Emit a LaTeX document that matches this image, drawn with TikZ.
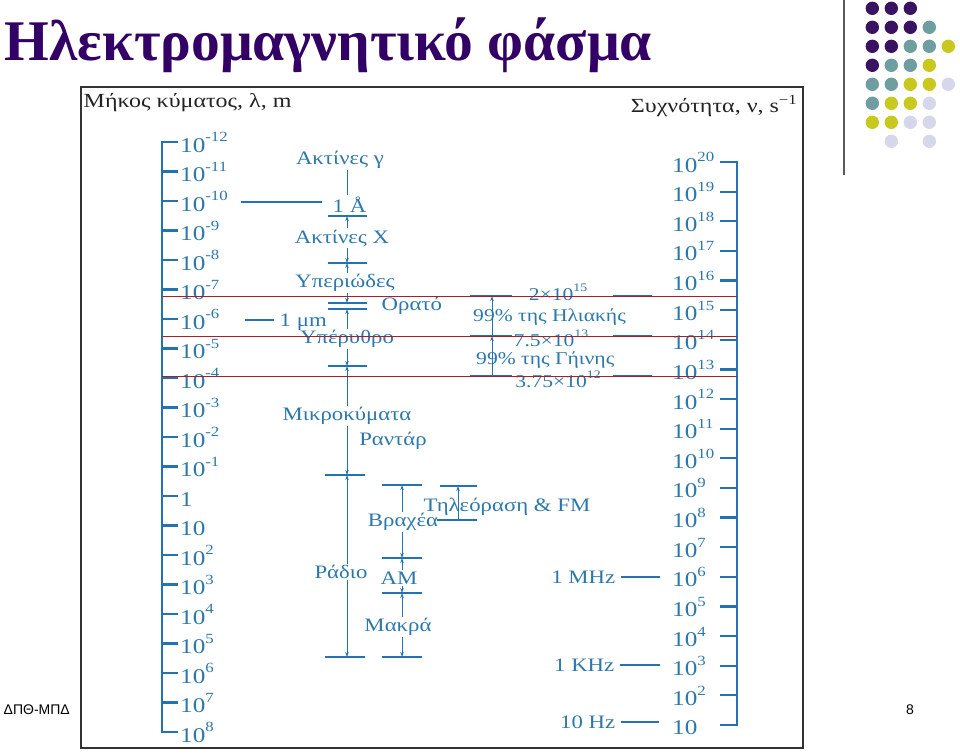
\documentclass[tikz,border=0pt]{standalone}
\usepackage{fontspec}
\setmainfont{Liberation Serif}
\newfontfamily\figfont[FakeStretch=1.2]{Liberation Serif}
\newfontfamily\footfont{Liberation Sans}
\usetikzlibrary{arrows.meta}
\definecolor{specblue}{RGB}{35,115,180}
\definecolor{spectext}{RGB}{45,120,170}
\definecolor{limred}{RGB}{170,30,40}
\definecolor{headgray}{RGB}{35,35,35}
\definecolor{titlepurple}{RGB}{51,0,102}
\definecolor{dotpurple}{RGB}{58,18,98}
\definecolor{dotteal}{RGB}{110,158,160}
\definecolor{dotyellow}{RGB}{200,200,30}
\definecolor{dotlav}{RGB}{215,215,235}
\newcommand{\tenp}[1]{10\raisebox{0.48em}{\fontsize{14}{14}\selectfont#1}}
\newcommand{\tenq}[1]{10\raisebox{0.45em}{\fontsize{11.5}{11.5}\selectfont#1}}

\begin{document}
\begin{tikzpicture}[x=1pt, y=-1pt, every node/.style={inner sep=1.5pt},
	txt/.style={text=spectext, font=\figfont\fontsize{19}{19}\selectfont},
	num/.style={text=spectext, font=\figfont\fontsize{21}{21}\selectfont, inner sep=0pt},
	ann/.style={text=spectext, font=\figfont\fontsize{18}{18}\selectfont, inner sep=0pt},
	head/.style={text=headgray, font=\figfont\fontsize{20}{20}\selectfont},
	scl/.style={specblue, line width=2.2pt},
	tk/.style={specblue, line width=1.3pt},
	ar/.style={specblue, line width=0.9pt, -{Stealth[length=5pt,width=3.5pt]}},
	lim/.style={limred, line width=0.8pt}]
	\useasboundingbox (0,0) rectangle (960,752);
	\node[anchor=base west, text=titlepurple, font=\bfseries\fontsize{57.5}{57.5}\selectfont] (title) at (3,60) {Ηλεκτρομαγνητικό φάσμα};
	\draw[gray!70!black, line width=1.5pt] (844,0) -- (844,175);
	\foreach \c/\r/\col in {0/0/dotpurple,1/0/dotpurple,2/0/dotpurple, 0/1/dotpurple,1/1/dotpurple,2/1/dotpurple,3/1/dotteal,
		0/2/dotpurple,1/2/dotpurple,2/2/dotteal,3/2/dotteal,4/2/dotyellow, 0/3/dotpurple,1/3/dotteal,2/3/dotteal,3/3/dotyellow,
		0/4/dotteal,1/4/dotteal,2/4/dotyellow,3/4/dotyellow,4/4/dotlav, 0/5/dotteal,1/5/dotyellow,2/5/dotyellow,3/5/dotlav,
		0/6/dotyellow,1/6/dotyellow,2/6/dotlav,3/6/dotlav, 1/7/dotlav,3/7/dotlav}
		\fill[\col] ({872.3+19*\c},{8.3+19*\r}) circle (6.7pt);
	\draw[gray!40!black, line width=1.3pt] (81,87) rectangle (803,748);
	\node[head, anchor=west] (lamhead) at (82,103) {Μήκος κύματος, λ, m};
	\node[head, anchor=east] (nuhead) at (799,106) {Συχνότητα, ν, s\textsuperscript{−1}};

	\draw[scl] (178,142) -- (162,142) -- (162,732) -- (178,732);
	\foreach \i/\lab in {0/\tenp{-12},1/\tenp{-11},2/\tenp{-10},3/\tenp{-9},4/\tenp{-8},5/\tenp{-7},6/\tenp{-6},7/\tenp{-5},8/\tenp{-4},9/\tenp{-3},10/\tenp{-2},
		11/\tenp{-1},12/1,13/10,14/\tenp{2},15/\tenp{3},16/\tenp{4},17/\tenp{5},18/\tenp{6},19/\tenp{7},20/\tenp{8}} {
		\draw[scl] (162,{142+29.5*\i}) -- (178,{142+29.5*\i});
		\node[num, anchor=base west] (w\i) at (180,{152+29.5*\i}) {\lab};
	}
	\draw[scl] (720,162) -- (737,162) -- (737,725) -- (720,725);
	\foreach \n/\lab in {20/\tenp{20},19/\tenp{19},18/\tenp{18},17/\tenp{17},16/\tenp{16},15/\tenp{15},14/\tenp{14},13/\tenp{13},12/\tenp{12},11/\tenp{11},
		10/\tenp{10},9/\tenp{9},8/\tenp{8},7/\tenp{7},6/\tenp{6},5/\tenp{5},4/\tenp{4},3/\tenp{3},2/\tenp{2},1/10} {
		\draw[scl] (720,{162+29.63*(20-\n)}) -- (737,{162+29.63*(20-\n)});
		\node[num, anchor=base west] (f\n) at (672,{172+29.63*(20-\n)}) {\lab};
	}

	\node[txt] (gam) at (340,160) {Ακτίνες γ};
	\node[txt, anchor=base west] (ang) at (331,212) {1 Å};
	\coordinate (angL) at (241,202);
	\draw[tk] (angL) -- (322,202);
	\node[txt] (xr) at (342,238) {Ακτίνες Χ};
	\node[txt] (uv) at (345,283) {Υπεριώδες};
	\node[txt, anchor=west] (vis) at (380,306) {Ορατό};
	\node[txt, anchor=west] (um) at (278,322) {1 μm};
	\coordinate (umL) at (245,320);
	\draw[tk, shorten >=4pt] (umL) -- (um.west |- umL);
	\node[txt] (ir) at (347,339) {Υπέρυθρο};
	\node[txt] (mw) at (347,416) {Μικροκύματα};
	\node[txt] (rad) at (393,441) {Ραντάρ};
	\node[txt] (rdo) at (341,572) {Ράδιο};
	\foreach \y in {216,263,303,309,366} \draw[tk] (328,\y) -- (367,\y);
	\foreach \y in {475,657} \draw[tk] (325,\y) -- (365,\y);
	\coordinate (m1) at (347,216); \coordinate (m2) at (347,263);
	\coordinate (m3) at (347,303); \coordinate (m4) at (347,309);
	\coordinate (m5) at (347,366); \coordinate (m6) at (347,475);
	\coordinate (m7) at (347,657);
	\draw[tk, line width=0.9pt] (gam.south -| m1) -- (ang.north -| m1);
	\draw[ar] (xr.north -| m1) -- (m1);
	\draw[ar] (xr.south -| m1) -- (m2);
	\draw[ar] (uv.north -| m1) -- (m2);
	\draw[ar] (uv.south -| m1) -- (m3);
	\draw[ar] (ir.north -| m1) -- (m4);
	\draw[ar] (ir.south -| m1) -- (m5);
	\draw[ar] (mw.north -| m1) -- (m5);
	\draw[ar] (mw.south -| m1) -- (m6);
	\draw[ar] (rdo.north -| m1) -- (m6);
	\draw[ar] (rdo.south -| m1) -- (m7);

	\node[txt] (sw) at (403,522) {Βραχέα};
	\node[txt] (am) at (399,578) {AM};
	\node[txt] (lw) at (398,627) {Μακρά};
	\foreach \y in {485,558,593,657} \draw[tk] (382,\y) -- (422,\y);
	\coordinate (s1) at (402,485); \coordinate (s2) at (402,558);
	\coordinate (s3) at (402,593); \coordinate (s4) at (402,657);
	\draw[ar] (sw.north -| s1) -- (s1);
	\draw[ar] (sw.south -| s1) -- (s2);
	\draw[ar] (am.north -| s1) -- (s2);
	\draw[ar] (am.south -| s1) -- (s3);
	\draw[ar] (lw.north -| s1) -- (s3);
	\draw[ar] (lw.south -| s1) -- (s4);
	\draw[tk] (440,486) -- (477,486);
	\draw[tk] (437,520) -- (477,520);
	\coordinate (t1) at (458,486); \coordinate (t2) at (458,520);
	\draw[ar, {Stealth[length=5pt,width=3.5pt]}-] (t1) -- (t2);
	\node[txt] (tv) at (507,507) {Τηλεόραση \& FM};

	\foreach \y in {296,336,376} {
		\draw[tk] (470,\y) -- (512,\y);
		\draw[tk] (613,\y) -- (652,\y);
	}
	\coordinate (a1) at (492,296); \coordinate (a2) at (492,336); \coordinate (a3) at (492,376);
	\draw[ar, {Stealth[length=5pt,width=3.5pt]}-] (a1) -- (a2);
	\draw[ar, {Stealth[length=5pt,width=3.5pt]}-] (a2) -- (a3);
	\node[ann, anchor=base] (f15) at (558,300) {2×\tenq{15}};
	\node[ann, anchor=base west] (sun) at (473,321) {99\% της Ηλιακής};
	\node[ann, anchor=base] (f13) at (551,346) {7.5×\tenq{13}};
	\node[ann, anchor=base west] (earth) at (476,364) {99\% της Γήινης};
	\node[ann, anchor=base] (f12) at (558,387) {3.75×\tenq{12}};
	\foreach \y in {296,336.5,376.5} \draw[lim] (162,\y) -- (737,\y);

	\node[txt, anchor=east] (mhz) at (617,577) {1 MHz};
	\node[txt, anchor=east] (khz) at (616,665) {1 KHz};
	\node[txt, anchor=east] (hz) at (617,722) {10 Hz};
	\coordinate (mhzR) at (660,577); \coordinate (khzR) at (660,665); \coordinate (hzR) at (659,722);
	\draw[tk, shorten <=4pt] (mhz.east) -- (mhzR);
	\draw[tk, shorten <=4pt] (khz.east) -- (khzR);
	\draw[tk, shorten <=4pt] (hz.east) -- (hzR);

	\node[anchor=west, font=\footfont\fontsize{14}{14}\selectfont] (foot) at (2,710) {ΔΠΘ-ΜΠΔ};
	\node[font=\footfont\fontsize{14}{14}\selectfont] (page) at (910,710) {8};
\end{tikzpicture}
\end{document}
